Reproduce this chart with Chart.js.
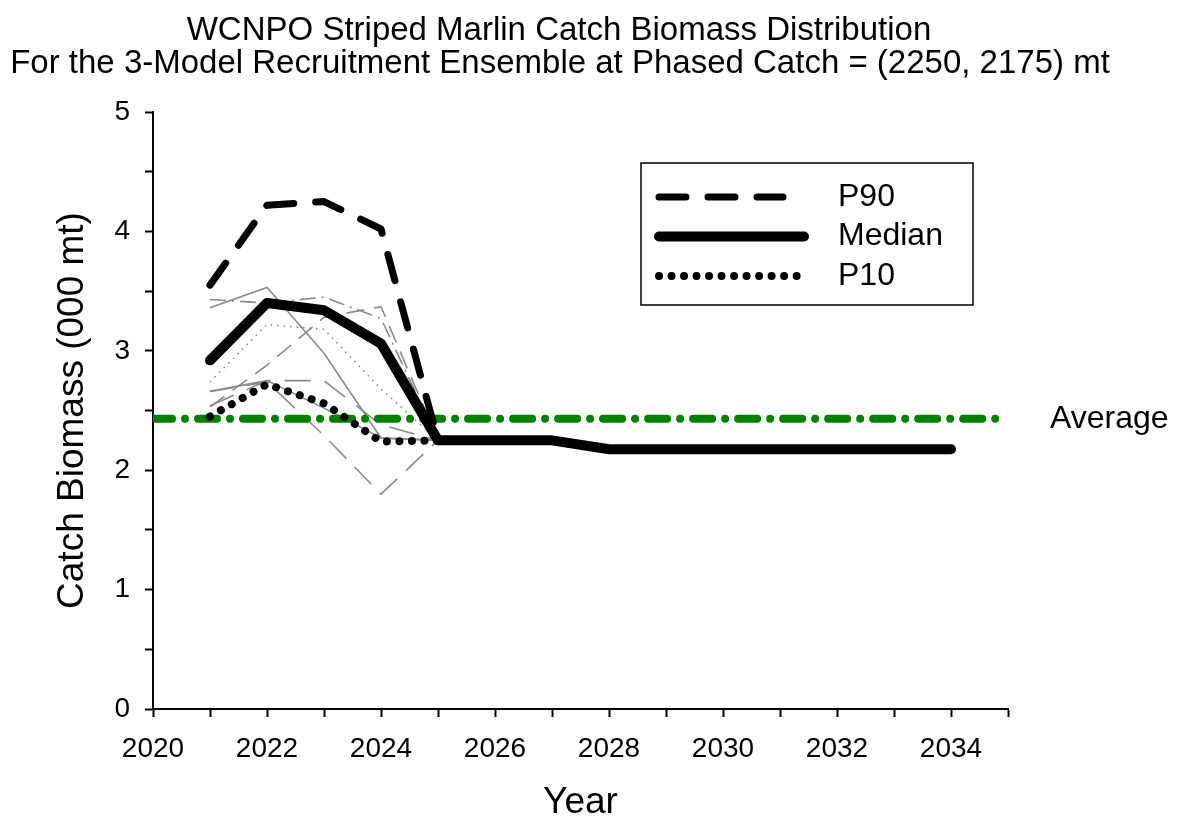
<!DOCTYPE html>
<html>
<head>
<meta charset="utf-8">
<title>WCNPO Striped Marlin Catch Biomass</title>
<script src="https://cdn.jsdelivr.net/npm/chart.js@4"></script>
<style>
  body { margin: 0; background: #fff; }
  canvas { display: block; }
</style>
</head>
<body>
<canvas id="catchChart" width="1180" height="825"></canvas>
<script>
// values (thousand mt)
const years = [2021, 2022, 2023, 2024, 2025, 2026, 2027, 2028, 2029, 2030, 2031, 2032, 2033, 2034];
const p90 = [3.55, 4.22, 4.25, 4.02, 2.25, 2.25, 2.25, 2.175, 2.175, 2.175, 2.175, 2.175, 2.175, 2.175];
const median = [2.92, 3.40, 3.34, 3.06, 2.25, 2.25, 2.25, 2.175, 2.175, 2.175, 2.175, 2.175, 2.175, 2.175];
const p10 = [2.45, 2.72, 2.56, 2.24, 2.25, 2.25, 2.25, 2.175, 2.175, 2.175, 2.175, 2.175, 2.175, 2.175];

// individual model lines (grey)
const modelA = [3.36, 3.53, 2.98, 2.27, 2.25, 2.25, 2.25, 2.175, 2.175, 2.175, 2.175, 2.175, 2.175, 2.175];
const modelB = [3.43, 3.40, 3.45, 3.27, 2.25, 2.25, 2.25, 2.175, 2.175, 2.175, 2.175, 2.175, 2.175, 2.175];
const modelC = [2.53, 2.88, 3.28, 3.37, 2.25, 2.25, 2.25, 2.175, 2.175, 2.175, 2.175, 2.175, 2.175, 2.175];
const modelD = [2.74, 3.22, 3.18, 2.68, 2.25, 2.25, 2.25, 2.175, 2.175, 2.175, 2.175, 2.175, 2.175, 2.175];
const modelE = [2.66, 2.74, 2.29, 1.80, 2.25, 2.25, 2.25, 2.175, 2.175, 2.175, 2.175, 2.175, 2.175, 2.175];
const modelF = [2.54, 2.75, 2.75, 2.38, 2.25, 2.25, 2.25, 2.175, 2.175, 2.175, 2.175, 2.175, 2.175, 2.175];
const modelG = [2.66, 2.75, 2.52, 2.27, 2.25, 2.25, 2.25, 2.175, 2.175, 2.175, 2.175, 2.175, 2.175, 2.175];

const averageYears = [2020, 2035];
const averageValue = [2.43, 2.43];

const titleLines = [
  'WCNPO Striped Marlin Catch Biomass Distribution',
  'For the 3-Model Recruitment Ensemble at Phased Catch = (2250, 2175) mt'
];
const FONT = "'Liberation Sans', Arial, sans-serif";

function pts(xs, ys) {
  return xs.map((x, i) => ({ x: x, y: ys[i] }));
}

function grey(values, dash, width) {
  return {
    data: pts(years, values),
    borderColor: '#8a8a8a',
    borderWidth: width || 1.6,
    borderDash: dash,
    pointRadius: 0,
    order: 3
  };
}

const datasets = [
  {
    label: 'P90',
    data: pts(years, p90),
    borderColor: '#000',
    borderWidth: 7,
    borderDash: [27, 22],
    borderCapStyle: 'round',
    borderJoinStyle: 'round',
    pointRadius: 0,
    order: 0
  },
  {
    label: 'Median',
    data: pts(years, median),
    borderColor: '#000',
    borderWidth: 10,
    borderCapStyle: 'round',
    borderJoinStyle: 'round',
    pointRadius: 0,
    order: 0
  },
  {
    label: 'P10',
    data: pts(years, p10),
    borderColor: '#000',
    borderWidth: 8,
    borderDash: [0.01, 12.5],
    borderCapStyle: 'round',
    pointRadius: 0,
    order: 0
  },
  {
    label: 'Average',
    data: pts(averageYears, averageValue),
    borderColor: '#008000',
    borderWidth: 8,
    borderDash: [19, 13, 0.01, 13],
    borderCapStyle: 'round',
    pointRadius: 0,
    order: 1
  },
  grey(modelA, []),
  grey(modelB, [16, 6, 2, 6]),
  grey(modelC, [18, 10]),
  grey(modelD, [1.5, 5]),
  grey(modelE, [24, 12]),
  grey(modelF, [26, 14]),
  grey(modelG, [])
];

// title, legend box and the "Average" label
const decorations = {
  id: 'decorations',
  afterDraw(chart) {
    const ctx = chart.ctx;
    ctx.save();
    ctx.fillStyle = '#000';
    ctx.font = '33px ' + FONT;
    ctx.textAlign = 'center';
    ctx.textBaseline = 'alphabetic';
    ctx.fillText(titleLines[0], 559, 40);
    ctx.fillText(titleLines[1], 560, 73);

    // Average label
    const yScale = chart.scales.y;
    ctx.font = '32px ' + FONT;
    ctx.textAlign = 'left';
    ctx.textBaseline = 'middle';
    ctx.fillText('Average', 1050, yScale.getPixelForValue(averageValue[0]));

    // legend
    ctx.lineWidth = 1.5;
    ctx.strokeStyle = '#000';
    ctx.strokeRect(641, 163, 332, 142);
    const rows = [0, 1, 2];
    rows.forEach((idx, r) => {
      const ds = chart.data.datasets[idx];
      const y = 197 + r * 39.5;
      ctx.beginPath();
      ctx.lineWidth = ds.borderWidth;
      ctx.lineCap = 'round';
      ctx.setLineDash(ds.borderDash || []);
      ctx.moveTo(659, y);
      ctx.lineTo(idx === 1 ? 804 : (idx === 2 ? 797 : 783), y);
      ctx.stroke();
      ctx.setLineDash([]);
      ctx.font = '32px ' + FONT;
      ctx.fillText(ds.label, 838, y);
    });
    ctx.restore();
  }
};

const chart = new Chart(document.getElementById('catchChart'), {
  type: 'line',
  data: { datasets: datasets },
  plugins: [decorations],
  options: {
    responsive: false,
    devicePixelRatio: 1,
    animation: false,
    layout: { padding: { top: 112, right: 172, left: 0, bottom: 0 } },
    plugins: {
      legend: { display: false },
      title: { display: false },
      tooltip: { enabled: false }
    },
    scales: {
      x: {
        type: 'linear',
        min: 2020,
        max: 2035,
        afterFit(scale) { scale.height = 116; },
        border: { color: '#000', width: 2 },
        grid: { drawOnChartArea: false, color: '#000', tickLength: 8, tickWidth: 2 },
        ticks: {
          stepSize: 1,
          autoSkip: false,
          maxRotation: 0,
          padding: 15,
          color: '#000',
          font: { family: FONT, size: 28 },
          callback: v => (v % 2 === 0 && v < 2035) ? String(v) : ''
        },
        title: {
          display: true,
          text: 'Year',
          color: '#000',
          font: { family: FONT, size: 37 },
          padding: { top: 0, bottom: 0 }
        }
      },
      y: {
        min: 0,
        max: 5,
        afterFit(scale) { scale.width = 153; },
        border: { color: '#000', width: 2 },
        grid: { drawOnChartArea: false, color: '#000', tickLength: 8, tickWidth: 2 },
        ticks: {
          stepSize: 0.5,
          padding: 15,
          color: '#000',
          font: { family: FONT, size: 28 },
          callback: v => Number.isInteger(v) ? String(v) : ''
        },
        title: {
          display: true,
          text: 'Catch Biomass (000 mt)',
          color: '#000',
          font: { family: FONT, size: 37 },
          padding: { top: 51, bottom: 0 }
        }
      }
    }
  }
});
</script>
</body>
</html>
